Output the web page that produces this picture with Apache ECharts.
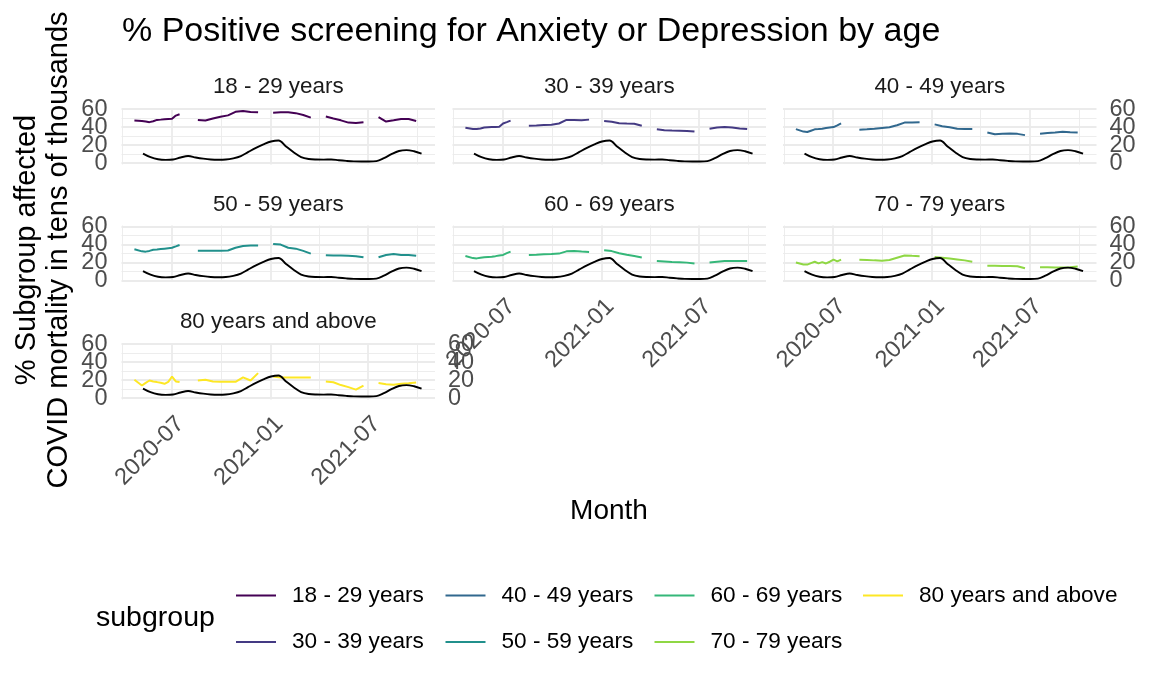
<!DOCTYPE html>
<html><head><meta charset="utf-8">
<script src="https://cdn.jsdelivr.net/npm/echarts@6/dist/echarts.min.js"></script>
<style>html,body{margin:0;padding:0;background:#fff}#c{width:1152px;height:691px}</style>
</head><body><div id="c"></div>
<script>
// ---------- DATA ----------
const subgroups = ['18 - 29 years','30 - 39 years','40 - 49 years','50 - 59 years','60 - 69 years','70 - 79 years','80 years and above'];
// survey period start dates; entries 2020-08-01, 2020-12-23, 2021-03-31, 2021-07-07 are gaps (null values)
const surveyDates = [
 '2020-04-23','2020-05-07','2020-05-14','2020-05-21','2020-05-28','2020-06-04','2020-06-11','2020-06-18','2020-06-25','2020-07-02','2020-07-09','2020-07-16',
 '2020-08-01',
 '2020-08-19','2020-09-02','2020-09-16','2020-09-30','2020-10-14','2020-10-28','2020-11-11','2020-11-25','2020-12-09',
 '2020-12-23',
 '2021-01-06','2021-01-20','2021-02-03','2021-02-17','2021-03-03','2021-03-17',
 '2021-03-31',
 '2021-04-14','2021-04-28','2021-05-12','2021-05-26','2021-06-09','2021-06-23',
 '2021-07-07',
 '2021-07-21','2021-08-04','2021-08-18','2021-09-01','2021-09-15','2021-09-29'
];
const age18_29 = [47.2,46.8,46.2,45.5,46.5,48.0,48.3,48.7,49.0,49.2,52.8,54.3, null, 48.0,47.3,49.5,51.5,53.0,57.0,57.8,56.8,56.6, null, 56.0,56.5,56.6,55.5,53.5,50.5, null, 51.7,49.5,47.5,45.0,44.5,45.3, null, 51.0,46.1,47.5,49.0,49.0,46.8];
const age30_39 = [39.3,38.0,37.8,38.5,39.5,39.8,40.0,40.2,40.5,44.0,45.5,47.2, null, 41.6,41.8,42.3,42.6,44.0,48.0,48.0,47.7,48.3, null, 46.8,46.0,44.3,44.0,43.8,41.6, null, 37.5,36.5,36.2,36.0,35.8,35.2, null, 38.2,39.5,40.0,39.5,38.5,37.8];
const age40_49 = [37.8,35.0,34.5,36.0,37.5,37.8,38.2,39.0,39.5,40.0,42.0,44.2, null, 37.0,37.5,38.2,39.0,39.8,42.0,45.0,45.0,45.3, null, 43.0,41.0,39.8,38.2,37.8,37.8, null, 34.1,32.0,32.5,33.0,32.5,31.1, null, 32.6,33.5,34.0,34.8,34.3,34.1];
const age50_59 = [34.8,32.5,32.2,33.0,34.2,34.5,35.0,35.5,36.0,36.5,38.0,39.6, null, 33.3,33.3,33.3,33.3,33.5,36.5,38.5,38.9,38.9, null, 40.7,40.0,36.5,35.5,33.0,30.0, null, 28.1,27.8,27.8,27.5,27.2,25.9, null, 25.9,28.5,29.6,28.5,28.5,27.5];
const age60_69 = [27.3,25.0,24.7,25.5,26.0,26.3,26.6,27.2,28.0,28.5,30.5,32.2, null, 28.5,28.8,29.3,29.6,30.0,32.5,33.0,32.3,31.8, null, 33.7,32.8,30.5,28.8,27.3,25.8, null, 21.7,21.2,20.7,20.4,20.0,19.1, null, 20.2,21.0,21.7,21.7,21.7,21.7];
const age70_79 = [20.2,18.0,17.8,19.5,21.0,19.2,20.6,19.1,21.0,23.3,21.4,23.3, null, 23.3,23.0,22.5,22.1,23.0,25.5,28.0,27.5,27.1, null, 26.3,25.5,24.5,23.5,22.5,21.0, null, 16.4,16.4,16.2,16.2,16.0,13.7, null, 14.9,14.8,14.6,14.5,15.0,15.6];
const age80plus = [20.4,14.0,17.0,19.6,18.5,17.8,17.0,15.9,18.0,24.0,18.5,17.8, null, 19.6,20.4,18.5,18.1,18.1,18.1,23.0,19.6,27.8, null, 24.0,23.0,23.0,23.0,23.0,23.0, null, 18.5,17.6,14.5,12.2,9.5,14.0, null, 16.7,15.5,14.8,15.9,16.5,17.4];
const subgroupValues = [age18_29, age30_39, age40_49, age50_59, age60_69, age70_79, age80plus];

const mortalityDates = ['2020-05-09','2020-05-23','2020-06-06','2020-06-20','2020-07-04','2020-07-18','2020-08-01','2020-08-15','2020-08-29','2020-09-12','2020-09-26','2020-10-10','2020-10-24','2020-11-07','2020-11-21','2020-12-05','2020-12-19','2021-01-02','2021-01-16','2021-01-30','2021-02-13','2021-02-27','2021-03-13','2021-03-27','2021-04-10','2021-04-24','2021-05-08','2021-05-22','2021-06-05','2021-06-19','2021-07-03','2021-07-17','2021-07-31','2021-08-14','2021-08-28','2021-09-11','2021-09-25','2021-10-09'];
const mortality = [10.6,6.6,4.3,3.6,4.0,6.3,7.9,6.3,5.0,4.1,3.8,4.0,5.3,7.8,12.5,17.0,20.8,24.0,25.2,18.5,12.1,6.8,4.6,4.0,3.9,4.1,3.2,2.5,2.0,1.9,1.9,2.3,5.5,10.0,13.5,14.5,13.2,10.6];

const xMajorTicks = ['2020-07-01','2021-01-01','2021-07-01'];
const xMinorTicks = ['2020-04-01','2020-10-01','2021-04-01','2021-10-01'];
const xLimits = ['2020-03-30','2021-11-03'];
const yMajorTicks = [0,20,40,60];
const yMinorTicks = [10,30,50];
const yLimits = [-1.5, 61.2];

// ---------- STYLE / LAYOUT ----------
const colors = ['#440154','#443A83','#31688E','#21908C','#35B779','#8FD744','#FDE725'];
const FONT = "'Liberation Sans', Arial, sans-serif";
const colLeft = [121.5, 452.5, 783];
const rowTop = [108, 225.5, 343];
const PW = 313.5, PH = 56.5;

const toMs = s => { const p = s.split('-').map(Number); return Date.UTC(p[0], p[1]-1, p[2]); };
// leading blank line pushes the rotated label so its top-right corner sits at the tick (like hjust=1, vjust=1)
const fmtMonth = v => { const d = new Date(v); return '\n' + d.getUTCFullYear() + '-' + String(d.getUTCMonth()+1).padStart(2,'0'); };

const grids = [], xAxes = [], yAxes = [], series = [], titles = [];
const tickText = {fontSize: 23.5, color: '#4D4D4D', fontFamily: FONT};
// tick labels are split over two axes (alternate values) so the crowded labels are all kept
const yLabelSets = [yMajorTicks.filter((v, k) => k % 2 === 0), yMajorTicks.filter((v, k) => k % 2 === 1)];

subgroups.forEach((name, i) => {
  const col = i % 3, row = Math.floor(i / 3);
  const showX = (i === 6) || (row === 1 && col > 0);
  const showLeft = col === 0;
  const showRight = col === 2 || i === 6;
  grids.push({left: colLeft[col], top: rowTop[row], width: PW, height: PH});
  const xi = xAxes.length;
  xAxes.push({
    type: 'value', gridIndex: i, min: toMs(xLimits[0]), max: toMs(xLimits[1]),
    axisLine: {show: false},
    axisTick: {show: false, customValues: xMajorTicks.map(toMs)},
    axisLabel: Object.assign({show: showX, customValues: xMajorTicks.map(toMs), rotate: 45, margin: 12,
      lineHeight: 25, formatter: fmtMonth, showMinLabel: true, showMaxLabel: true}, tickText),
    splitLine: {show: true, lineStyle: {color: '#EBEBEB', width: 1.8}}
  });
  xAxes.push({
    type: 'value', gridIndex: i, min: toMs(xLimits[0]), max: toMs(xLimits[1]),
    axisLine: {show: false},
    axisTick: {show: false, customValues: xMinorTicks.map(toMs)},
    axisLabel: {show: false, customValues: xMinorTicks.map(toMs)},
    splitLine: {show: true, lineStyle: {color: '#EBEBEB', width: 0.9}}
  });
  const yi = yAxes.length;
  yAxes.push({
    type: 'value', gridIndex: i, min: yLimits[0], max: yLimits[1], position: 'left',
    axisLine: {show: false},
    axisTick: {show: false, customValues: yMajorTicks},
    axisLabel: {show: false, customValues: yMajorTicks},
    splitLine: {show: true, lineStyle: {color: '#EBEBEB', width: 1.8}}
  });
  yAxes.push({
    type: 'value', gridIndex: i, min: yLimits[0], max: yLimits[1], position: 'left',
    axisLine: {show: false},
    axisTick: {show: false, customValues: yMinorTicks},
    axisLabel: {show: false, customValues: yMinorTicks},
    splitLine: {show: true, lineStyle: {color: '#EBEBEB', width: 0.9}}
  });
  const sides = [];
  if (showLeft) sides.push(['left', 14]);
  if (showRight) sides.push(['right', 13]);
  sides.forEach(([pos, margin]) => {
    yLabelSets.forEach(vals => {
      yAxes.push({
        type: 'value', gridIndex: i, min: yLimits[0], max: yLimits[1], position: pos, offset: 0,
        axisLine: {show: false},
        axisTick: {show: false, customValues: vals},
        axisLabel: Object.assign({show: true, customValues: vals, margin: margin,
          showMinLabel: true, showMaxLabel: true}, tickText),
        splitLine: {show: false}
      });
    });
  });
  series.push({
    name: name, type: 'line', xAxisIndex: xi, yAxisIndex: yi, symbol: 'none', connectNulls: false,
    color: colors[i], lineStyle: {width: 2, color: colors[i]}, z: 3,
    data: surveyDates.map((d, k) => [toMs(d), subgroupValues[i][k] === null ? '-' : subgroupValues[i][k]])
  });
  series.push({
    name: 'mortality', type: 'line', xAxisIndex: xi, yAxisIndex: yi, symbol: 'none', smooth: 0.35,
    color: '#000', lineStyle: {width: 1.9, color: '#000'}, z: 4,
    data: mortalityDates.map((d, k) => [toMs(d), mortality[k]])
  });
  titles.push({
    text: name, left: colLeft[col] + PW / 2, top: rowTop[row] - 32, textAlign: 'center', padding: 0,
    textStyle: {fontSize: 22.4, fontWeight: 'normal', color: '#1A1A1A', fontFamily: FONT}
  });
});

titles.push({text: '% Positive screening for Anxiety or Depression by age', left: 122, top: 15, padding: 0,
  textStyle: {fontSize: 34, fontWeight: 'normal', color: '#000', fontFamily: FONT}});
titles.push({text: 'Month', left: 609, top: 497, textAlign: 'center', padding: 0,
  textStyle: {fontSize: 28, fontWeight: 'normal', color: '#000', fontFamily: FONT}});
titles.push({text: 'subgroup', left: 96, top: 604, padding: 0,
  textStyle: {fontSize: 28.5, fontWeight: 'normal', color: '#000', fontFamily: FONT}});

const legendCols = [[0,1],[2,3],[4,5],[6]];
const legendLeft = [231, 440.5, 649.5, 858];
const legends = legendCols.map((idx, c) => ({
  left: legendLeft[c], top: 579, orient: 'vertical', itemWidth: 51, itemHeight: 22, itemGap: 23.5,
  icon: 'path://M0,0 M0,10 L40,10 L40,12 L0,12 Z M51,22', symbolKeepAspect: false,
  itemStyle: {borderWidth: 0}, selectedMode: false,
  textStyle: {fontSize: 22.6, color: '#000', fontFamily: FONT},
  data: idx.map(k => subgroups[k])
}));

const chart = echarts.init(document.getElementById('c'), null, {renderer: 'canvas'});
chart.setOption({
  animation: false, backgroundColor: '#fff',
  title: titles, legend: legends, grid: grids, xAxis: xAxes, yAxis: yAxes, series: series,
  graphic: [{
    type: 'text', x: 43, y: 250, rotation: Math.PI / 2,
    style: {text: '% Subgroup affected\nCOVID mortality in tens of thousands', fontSize: 29, lineHeight: 32,
      fill: '#000', align: 'center', verticalAlign: 'middle', fontFamily: FONT}
  }]
});
</script></body></html>
